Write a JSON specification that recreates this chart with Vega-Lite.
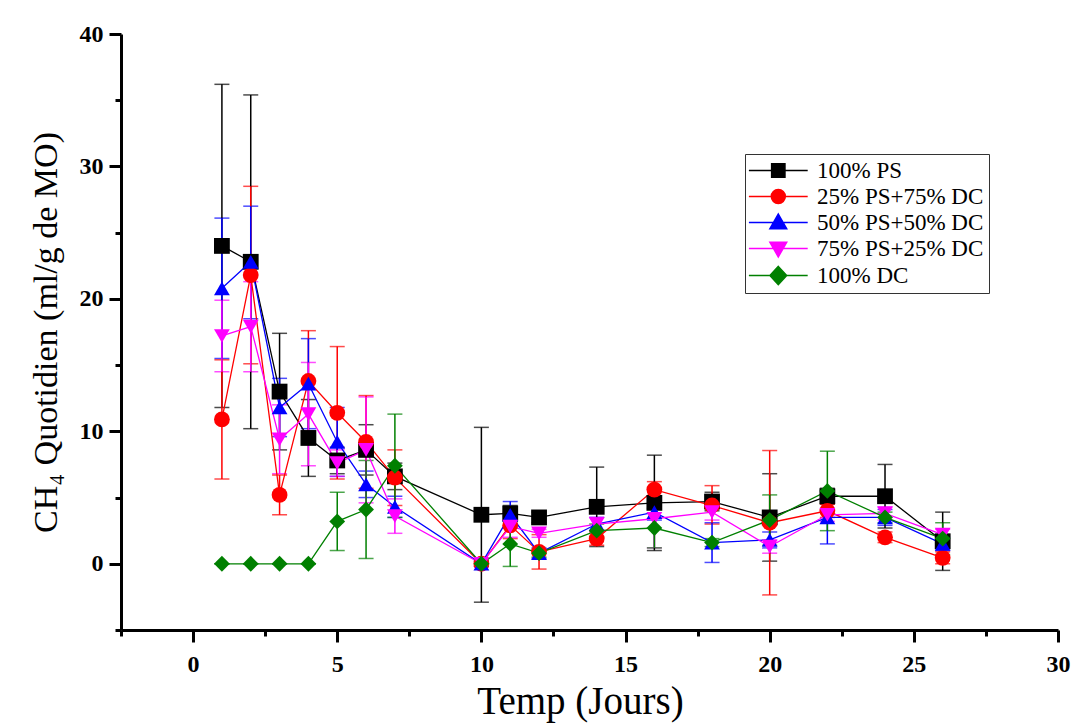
{
  "$schema": "https://vega.github.io/schema/vega-lite/v6.json",
  "width": 937,
  "height": 596,
  "autosize": {"type": "none"},
  "padding": {"left": 121, "top": 34, "right": 18, "bottom": 94},
  "background": "white",
  "config": {
    "view": {"stroke": null},
    "font": "Liberation Serif",
    "axis": {
      "grid": false,
      "domainColor": "black",
      "domainWidth": 3,
      "tickColor": "black",
      "tickWidth": 3,
      "labelFont": "Liberation Serif",
      "labelFontWeight": "bold",
      "labelFontSize": 24,
      "labelColor": "black",
      "labelFlush": false,
      "labelOverlap": false,
      "titleFont": "Liberation Serif",
      "titleFontWeight": "normal",
      "titleColor": "black"
    },
    "legend": {
      "orient": "none",
      "legendX": 624,
      "legendY": 120,
      "labelFont": "Liberation Serif",
      "labelFontSize": 23,
      "labelColor": "black",
      "labelLimit": 400,
      "labelOffset": 44,
      "rowPadding": 2,
      "padding": 5,
      "strokeColor": "#333333",
      "fillColor": "white",
      "symbolSize": 196,
      "symbolStrokeWidth": 1.5
    }
  },
  "data": {
    "values": [
      {"d": 1, "s": "100% PS", "v": 24.0, "lo": 11.8, "hi": 36.2},
      {"d": 2, "s": "100% PS", "v": 22.8, "lo": 10.2, "hi": 35.4},
      {"d": 3, "s": "100% PS", "v": 13.0, "lo": 8.6, "hi": 17.4},
      {"d": 4, "s": "100% PS", "v": 9.5, "lo": 6.6, "hi": 12.4},
      {"d": 5, "s": "100% PS", "v": 7.8, "lo": 6.8, "hi": 8.8},
      {"d": 6, "s": "100% PS", "v": 8.6, "lo": 6.7, "hi": 10.5},
      {"d": 7, "s": "100% PS", "v": 6.6, "lo": 5.6, "hi": 7.6},
      {"d": 10, "s": "100% PS", "v": 3.7, "lo": -2.9, "hi": 10.3},
      {"d": 11, "s": "100% PS", "v": 3.8, "lo": 3.2, "hi": 4.4},
      {"d": 12, "s": "100% PS", "v": 3.5, "lo": 3.1, "hi": 3.9},
      {"d": 14, "s": "100% PS", "v": 4.3, "lo": 1.3, "hi": 7.3},
      {"d": 16, "s": "100% PS", "v": 4.6, "lo": 1.0, "hi": 8.2},
      {"d": 18, "s": "100% PS", "v": 4.7, "lo": 4.0, "hi": 5.4},
      {"d": 20, "s": "100% PS", "v": 3.5, "lo": 0.2, "hi": 6.8},
      {"d": 22, "s": "100% PS", "v": 5.1, "lo": 4.5, "hi": 5.7},
      {"d": 24, "s": "100% PS", "v": 5.1, "lo": 2.7, "hi": 7.5},
      {"d": 26, "s": "100% PS", "v": 1.7, "lo": -0.5, "hi": 3.9},

      {"d": 1, "s": "25% PS+75% DC", "v": 10.9, "lo": 6.4, "hi": 15.4},
      {"d": 2, "s": "25% PS+75% DC", "v": 21.8, "lo": 15.1, "hi": 28.5},
      {"d": 3, "s": "25% PS+75% DC", "v": 5.2, "lo": 3.7, "hi": 6.7},
      {"d": 4, "s": "25% PS+75% DC", "v": 13.8, "lo": 10.0, "hi": 17.6},
      {"d": 5, "s": "25% PS+75% DC", "v": 11.4, "lo": 6.4, "hi": 16.4},
      {"d": 6, "s": "25% PS+75% DC", "v": 9.2, "lo": 5.7, "hi": 12.7},
      {"d": 7, "s": "25% PS+75% DC", "v": 6.5, "lo": 4.4, "hi": 8.6},
      {"d": 10, "s": "25% PS+75% DC", "v": 0.0, "lo": -0.2, "hi": 0.2},
      {"d": 11, "s": "25% PS+75% DC", "v": 2.9, "lo": 1.9, "hi": 3.9},
      {"d": 12, "s": "25% PS+75% DC", "v": 0.9, "lo": -0.4, "hi": 2.2},
      {"d": 14, "s": "25% PS+75% DC", "v": 1.9, "lo": 1.4, "hi": 2.4},
      {"d": 16, "s": "25% PS+75% DC", "v": 5.6, "lo": 5.0, "hi": 6.2},
      {"d": 18, "s": "25% PS+75% DC", "v": 4.4, "lo": 3.0, "hi": 5.9},
      {"d": 20, "s": "25% PS+75% DC", "v": 3.1, "lo": -2.35, "hi": 8.55},
      {"d": 22, "s": "25% PS+75% DC", "v": 4.0, "lo": 3.5, "hi": 4.5},
      {"d": 24, "s": "25% PS+75% DC", "v": 2.0, "lo": 1.6, "hi": 2.4},
      {"d": 26, "s": "25% PS+75% DC", "v": 0.45, "lo": 0.0, "hi": 0.9},

      {"d": 1, "s": "50% PS+50% DC", "v": 20.8, "lo": 15.5, "hi": 26.1},
      {"d": 2, "s": "50% PS+50% DC", "v": 22.8, "lo": 18.5, "hi": 27.0},
      {"d": 3, "s": "50% PS+50% DC", "v": 11.8, "lo": 9.6, "hi": 14.0},
      {"d": 4, "s": "50% PS+50% DC", "v": 13.6, "lo": 10.2, "hi": 17.0},
      {"d": 5, "s": "50% PS+50% DC", "v": 9.2, "lo": 6.6, "hi": 11.8},
      {"d": 6, "s": "50% PS+50% DC", "v": 6.0, "lo": 5.0, "hi": 7.0},
      {"d": 7, "s": "50% PS+50% DC", "v": 4.3, "lo": 3.5, "hi": 5.1},
      {"d": 10, "s": "50% PS+50% DC", "v": 0.0, "lo": -0.2, "hi": 0.2},
      {"d": 11, "s": "50% PS+50% DC", "v": 3.7, "lo": 2.7, "hi": 4.7},
      {"d": 12, "s": "50% PS+50% DC", "v": 0.8, "lo": 0.4, "hi": 1.2},
      {"d": 14, "s": "50% PS+50% DC", "v": 3.0, "lo": 2.5, "hi": 3.5},
      {"d": 16, "s": "50% PS+50% DC", "v": 3.9, "lo": 3.3, "hi": 4.5},
      {"d": 18, "s": "50% PS+50% DC", "v": 1.6, "lo": 0.1, "hi": 3.1},
      {"d": 20, "s": "50% PS+50% DC", "v": 1.8, "lo": 1.2, "hi": 2.4},
      {"d": 22, "s": "50% PS+50% DC", "v": 3.5, "lo": 1.5, "hi": 5.5},
      {"d": 24, "s": "50% PS+50% DC", "v": 3.5, "lo": 2.9, "hi": 4.1},
      {"d": 26, "s": "50% PS+50% DC", "v": 1.5, "lo": 1.0, "hi": 2.0},

      {"d": 1, "s": "75% PS+25% DC", "v": 17.2, "lo": 14.5, "hi": 19.9},
      {"d": 2, "s": "75% PS+25% DC", "v": 17.9, "lo": 14.5, "hi": 21.3},
      {"d": 3, "s": "75% PS+25% DC", "v": 9.4, "lo": 6.8, "hi": 12.0},
      {"d": 4, "s": "75% PS+25% DC", "v": 11.3, "lo": 7.4, "hi": 15.2},
      {"d": 5, "s": "75% PS+25% DC", "v": 7.6, "lo": 6.6, "hi": 8.6},
      {"d": 6, "s": "75% PS+25% DC", "v": 8.6, "lo": 4.6, "hi": 12.6},
      {"d": 7, "s": "75% PS+25% DC", "v": 3.6, "lo": 2.3, "hi": 4.9},
      {"d": 10, "s": "75% PS+25% DC", "v": 0.0, "lo": -0.2, "hi": 0.2},
      {"d": 11, "s": "75% PS+25% DC", "v": 2.8, "lo": 2.0, "hi": 3.6},
      {"d": 12, "s": "75% PS+25% DC", "v": 2.3, "lo": 2.0, "hi": 2.6},
      {"d": 14, "s": "75% PS+25% DC", "v": 3.0, "lo": 2.5, "hi": 3.5},
      {"d": 16, "s": "75% PS+25% DC", "v": 3.4, "lo": 1.2, "hi": 5.6},
      {"d": 18, "s": "75% PS+25% DC", "v": 3.9, "lo": 3.3, "hi": 4.5},
      {"d": 20, "s": "75% PS+25% DC", "v": 1.3, "lo": 0.8, "hi": 1.8},
      {"d": 22, "s": "75% PS+25% DC", "v": 3.7, "lo": 3.2, "hi": 4.2},
      {"d": 24, "s": "75% PS+25% DC", "v": 3.8, "lo": 3.3, "hi": 4.3},
      {"d": 26, "s": "75% PS+25% DC", "v": 2.2, "lo": 1.8, "hi": 2.6},

      {"d": 1, "s": "100% DC", "v": 0.0, "lo": 0.0, "hi": 0.0},
      {"d": 2, "s": "100% DC", "v": 0.0, "lo": 0.0, "hi": 0.0},
      {"d": 3, "s": "100% DC", "v": 0.0, "lo": 0.0, "hi": 0.0},
      {"d": 4, "s": "100% DC", "v": 0.0, "lo": 0.0, "hi": 0.0},
      {"d": 5, "s": "100% DC", "v": 3.2, "lo": 1.0, "hi": 5.4},
      {"d": 6, "s": "100% DC", "v": 4.1, "lo": 0.4, "hi": 7.8},
      {"d": 7, "s": "100% DC", "v": 7.4, "lo": 3.5, "hi": 11.3},
      {"d": 10, "s": "100% DC", "v": 0.0, "lo": -0.2, "hi": 0.2},
      {"d": 11, "s": "100% DC", "v": 1.5, "lo": -0.2, "hi": 3.2},
      {"d": 12, "s": "100% DC", "v": 0.8, "lo": 0.5, "hi": 1.1},
      {"d": 14, "s": "100% DC", "v": 2.5, "lo": 2.0, "hi": 3.0},
      {"d": 16, "s": "100% DC", "v": 2.7, "lo": 1.2, "hi": 4.2},
      {"d": 18, "s": "100% DC", "v": 1.6, "lo": 1.3, "hi": 1.9},
      {"d": 20, "s": "100% DC", "v": 3.3, "lo": 1.4, "hi": 5.2},
      {"d": 22, "s": "100% DC", "v": 5.5, "lo": 2.5, "hi": 8.5},
      {"d": 24, "s": "100% DC", "v": 3.5, "lo": 3.1, "hi": 3.9},
      {"d": 26, "s": "100% DC", "v": 1.9, "lo": 0.7, "hi": 3.1}
    ]
  },
  "encoding": {
    "x": {
      "field": "d",
      "type": "quantitative",
      "scale": {"domain": [-2.5, 30], "nice": false, "zero": false},
      "axis": {
        "title": "Temp (Jours)",
        "titleFontSize": 39,
        "titlePadding": 6,
        "titleX": 459,
        "values": [-2.5, 0, 2.5, 5, 7.5, 10, 12.5, 15, 17.5, 20, 22.5, 25, 27.5, 30],
        "labelExpr": "datum.value % 5 === 0 ? datum.label : ''",
        "tickSize": {"condition": {"test": "datum.value % 5 === 0", "value": 12}, "value": 6},
        "labelPadding": 10
      }
    },
    "y": {
      "field": "v",
      "type": "quantitative",
      "scale": {"domain": [-5, 40], "nice": false, "zero": false},
      "axis": {
        "title": "CH₄ Quotidien (ml/g de MO)",
        "titleFontSize": 34,
        "titlePadding": 16,
        "values": [-5, 0, 5, 10, 15, 20, 25, 30, 35, 40],
        "labelExpr": "datum.value % 10 === 0 ? datum.label : ''",
        "tickSize": {"condition": {"test": "datum.value % 10 === 0", "value": 12}, "value": 6},
        "labelPadding": 6
      }
    }
  },
  "layer": [
    {
      "mark": {"type": "errorbar", "ticks": {"size": 15, "thickness": 1.5}, "rule": {"strokeWidth": 1.5}},
      "encoding": {
        "y": {
          "field": "lo",
          "type": "quantitative",
          "scale": {"domain": [-5, 40], "nice": false, "zero": false},
          "axis": {
            "title": "CH₄ Quotidien (ml/g de MO)",
            "titleFontSize": 34,
            "titlePadding": 16,
            "values": [-5, 0, 5, 10, 15, 20, 25, 30, 35, 40],
            "labelExpr": "datum.value % 10 === 0 ? datum.label : ''",
            "tickSize": {"condition": {"test": "datum.value % 10 === 0", "value": 12}, "value": 6},
            "labelPadding": 6
          }
        },
        "y2": {"field": "hi"},
        "color": {
          "field": "s",
          "type": "nominal",
          "scale": {
            "domain": ["100% PS", "25% PS+75% DC", "50% PS+50% DC", "75% PS+25% DC", "100% DC"],
            "range": ["#000000", "#ff0000", "#0000ff", "#ff00ff", "#008000"]
          },
          "legend": null
        }
      }
    },
    {
      "mark": {"type": "line", "strokeWidth": 1.3},
      "encoding": {
        "color": {"field": "s", "type": "nominal", "legend": null}
      }
    },
    {
      "mark": {"type": "point", "filled": true, "size": 250, "opacity": 1},
      "encoding": {
        "color": {"field": "s", "type": "nominal", "legend": null},
        "shape": {
          "field": "s",
          "type": "nominal",
          "scale": {
            "domain": ["100% PS", "25% PS+75% DC", "50% PS+50% DC", "75% PS+25% DC", "100% DC"],
            "range": ["square", "circle", "triangle-up", "triangle-down", "diamond"]
          },
          "legend": null
        }
      }
    },
    {
      "transform": [{"filter": "false"}],
      "mark": {"type": "point", "filled": true, "size": 196, "opacity": 1, "strokeWidth": 1.5},
      "encoding": {
        "fill": {
          "field": "s",
          "type": "nominal",
          "scale": {
            "domain": ["100% PS", "25% PS+75% DC", "50% PS+50% DC", "75% PS+25% DC", "100% DC"],
            "range": ["#000000", "#ff0000", "#0000ff", "#ff00ff", "#008000"]
          },
          "legend": {"title": null, "encode": {"legend": {"update": {"strokeWidth": {"value": 2}}}}}
        },
        "stroke": {
          "field": "s",
          "type": "nominal",
          "scale": {
            "domain": ["100% PS", "25% PS+75% DC", "50% PS+50% DC", "75% PS+25% DC", "100% DC"],
            "range": ["#000000", "#ff0000", "#0000ff", "#ff00ff", "#008000"]
          },
          "legend": {"title": null, "encode": {"legend": {"update": {"strokeWidth": {"value": 2}}}}}
        },
        "shape": {
          "field": "s",
          "type": "nominal",
          "scale": {
            "domain": ["100% PS", "25% PS+75% DC", "50% PS+50% DC", "75% PS+25% DC", "100% DC"],
            "range": [
              "M-1.8,0H6.6M1.45,-0.95H3.35V0.95H1.45Z",
              "M-1.8,0H6.6M1.4,0A1,1,0,1,1,3.4,0A1,1,0,1,1,1.4,0Z",
              "M-1.8,0H6.6M2.4,-1.2L3.6,0.9L1.2,0.9Z",
              "M-1.8,0H6.6M2.4,1.2L3.6,-0.9L1.2,-0.9Z",
              "M-1.8,0H6.6M2.4,-1.3L3.6,0L2.4,1.3L1.2,0Z"
            ]
          },
          "legend": {"title": null, "encode": {"legend": {"update": {"strokeWidth": {"value": 2}}}}}
        }
      }
    }
  ],
  "resolve": {"scale": {"shape": "independent", "fill": "independent", "stroke": "independent"}}
}
